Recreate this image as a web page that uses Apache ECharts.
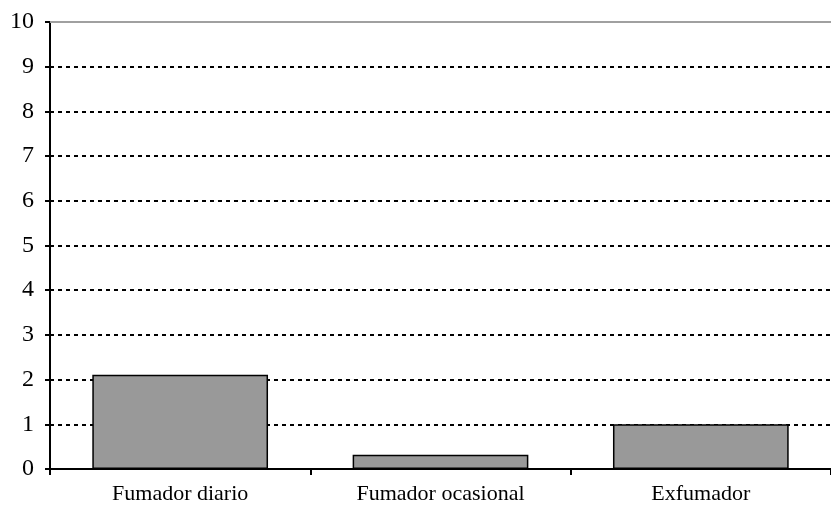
<!DOCTYPE html>
<html>
<head>
<meta charset="utf-8">
<script src="https://cdn.jsdelivr.net/npm/echarts@6/dist/echarts.min.js"></script>
<style>
  html, body { margin: 0; padding: 0; background: #fff; }
  #main { width: 831px; height: 517px; }
</style>
</head>
<body>
<div id="main"></div>
<script>
// datos
var categories = ['Fumador diario', 'Fumador ocasional', 'Exfumador'];
var values = [2.11, 0.32, 1.0];
var yTicks = [0, 1, 2, 3, 4, 5, 6, 7, 8, 9, 10];

var myChart = echarts.init(document.getElementById('main'));

var font = '"Liberation Serif", "Times New Roman", serif';

var option = {
    animation: false,
    grid: { left: 50, width: 784, top: 22, bottom: 48 },
    xAxis: {
        type: 'category',
        data: categories,
        axisLine: { lineStyle: { color: '#000', width: 2 } },
        axisTick: { show: true, length: 6, lineStyle: { color: '#000', width: 2 } },
        axisLabel: { color: '#000', fontFamily: font, fontSize: 22, margin: 14 }
    },
    yAxis: {
        type: 'value',
        min: yTicks[0],
        max: yTicks[yTicks.length - 1],
        interval: 1,
        axisLine: { show: true, lineStyle: { color: '#000', width: 2 } },
        axisTick: { show: true, length: 5, lineStyle: { color: '#000', width: 2 } },
        axisLabel: { color: '#000', fontFamily: font, fontSize: 24, margin: 16 },
        splitLine: { show: true, lineStyle: { color: '#000', type: [4, 4], width: 2 } }
    },
    series: [{
        type: 'bar',
        data: values,
        barCategoryGap: '32.5%',
        itemStyle: { color: '#999999', borderColor: '#000', borderWidth: 1.5 },
        markLine: {
            silent: true,
            symbol: 'none',
            label: { show: false },
            z: 1,
            lineStyle: { color: '#a0a0a0', type: 'solid', width: 2 },
            data: [{ yAxis: yTicks[yTicks.length - 1] }]
        }
    }]
};

myChart.setOption(option);
</script>
</body>
</html>
